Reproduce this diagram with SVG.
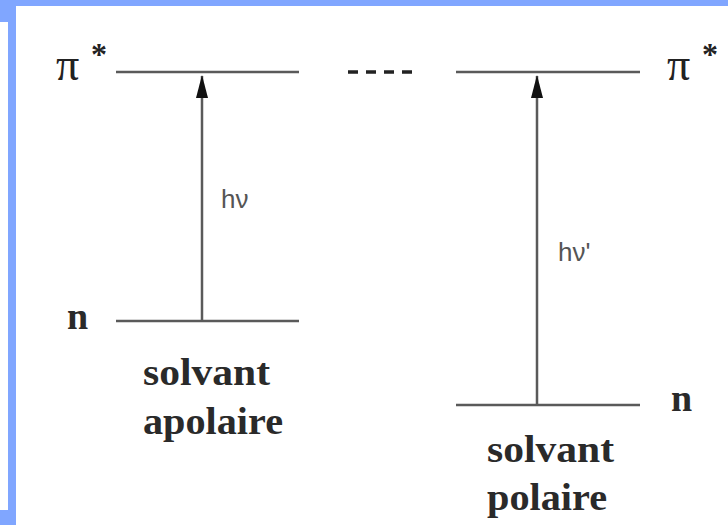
<svg xmlns="http://www.w3.org/2000/svg" width="728" height="525" viewBox="0 0 728 525">
<style>
.lvl{stroke:#5a5a5a;stroke-width:2.5;fill:none}
.arr{stroke:#5a5a5a;stroke-width:2.5;fill:none}
.lab{font-family:"Liberation Serif",serif;fill:#222}
.big{font-family:"Liberation Serif",serif;font-weight:bold;font-size:38px;fill:#2a2a2a}
.hv{font-family:"Liberation Sans",sans-serif;font-size:26px;fill:#555}
</style>
<defs>
<marker id="ah" markerWidth="24" markerHeight="14" refX="23" refY="7" orient="auto" markerUnits="userSpaceOnUse" viewBox="0 0 24 14">
<path d="M24,7 L1,1 L1,13 Z" fill="#111"/>
</marker>
</defs>
<rect width="728" height="525" fill="#ffffff"/>
<g id="frame" fill="#80a6ff">
<rect x="0" y="0" width="728" height="6"/>
<rect x="0" y="0" width="16" height="22"/>
<rect x="8" y="0" width="8" height="525"/>
<rect x="0" y="510" width="16" height="15"/>
</g>
<g id="left-pistar">
<line class="lvl" x1="116" y1="72" x2="299" y2="72"/>
<text class="lab" x="56" y="80" font-size="46">π</text>
<text class="lab" x="91" y="65" font-size="32" font-weight="bold">*</text>
</g>
<g id="left-n">
<line class="lvl" x1="116" y1="321" x2="299" y2="321"/>
<text class="big" x="67" y="329">n</text>
</g>
<g id="left-caption">
<text class="big" x="143" y="385" textLength="127" lengthAdjust="spacingAndGlyphs">solvant</text>
<text class="big" x="143" y="434" textLength="140" lengthAdjust="spacingAndGlyphs">apolaire</text>
</g>
<g id="right-pistar">
<line class="lvl" x1="456" y1="72" x2="640" y2="72"/>
<text class="lab" x="667" y="80" font-size="46">π</text>
<text class="lab" x="702" y="65" font-size="32" font-weight="bold">*</text>
</g>
<g id="right-n">
<line class="lvl" x1="456" y1="405" x2="640" y2="405"/>
<text class="big" x="671" y="411">n</text>
</g>
<g id="right-caption">
<text class="big" x="487" y="462" textLength="127" lengthAdjust="spacingAndGlyphs">solvant</text>
<text class="big" x="487" y="510" textLength="120" lengthAdjust="spacingAndGlyphs">polaire</text>
</g>
<g id="connectors">
<line class="arr" x1="202" y1="321" x2="202" y2="76" marker-end="url(#ah)"/>
<text class="hv" x="221" y="208">hν</text>
<line class="arr" x1="537" y1="405" x2="537" y2="76" marker-end="url(#ah)" stroke="#6a6a6a"/>
<text class="hv" x="558" y="261">hν'</text>
<line x1="348" y1="72" x2="416" y2="72" stroke="#222" stroke-width="3.5" stroke-dasharray="10,8"/>
</g>
</svg>
